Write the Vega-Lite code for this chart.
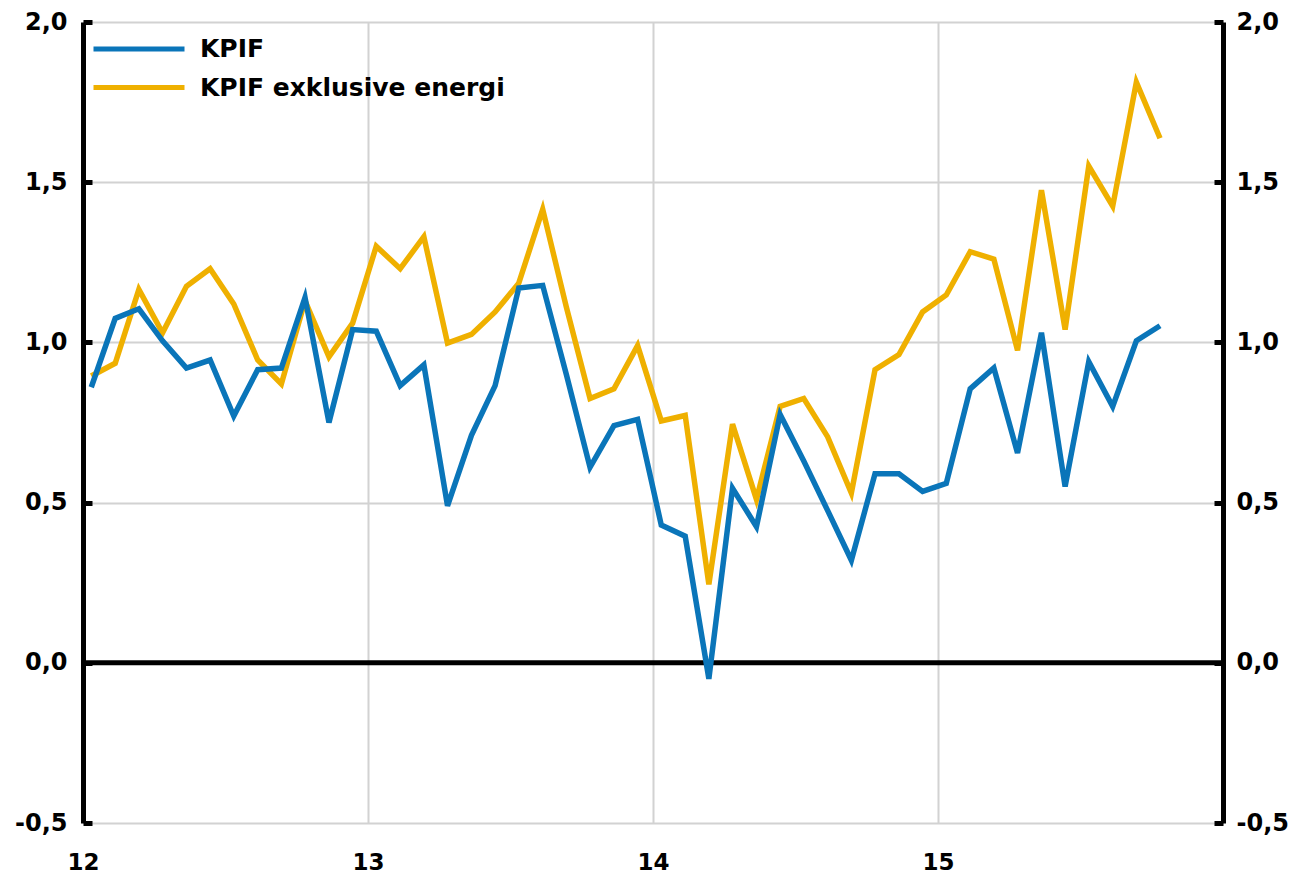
{
  "$schema": "https://vega.github.io/schema/vega-lite/v6.json",
  "width": 1140,
  "height": 801,
  "autosize": {"type": "none"},
  "padding": {"left": 83, "top": 22, "right": 72, "bottom": 53},
  "background": "white",
  "config": {
    "view": {"stroke": null},
    "axis": {
      "labelFont": "DejaVu Sans",
      "labelFontWeight": "bold",
      "labelFontSize": 24,
      "labelColor": "black",
      "labelFlush": false,
      "gridColor": "#d2d2d2",
      "gridWidth": 2,
      "title": null
    },
    "legend": {
      "labelFont": "DejaVu Sans",
      "labelFontWeight": "bold",
      "labelFontSize": 25,
      "labelColor": "black",
      "labelLimit": 0,
      "padding": 0
    }
  },
  "datasets": {
    "series": [
      {"t": 12.029, "serie": "KPIF", "value": 0.86},
      {"t": 12.113, "serie": "KPIF", "value": 1.075},
      {"t": 12.196, "serie": "KPIF", "value": 1.105},
      {"t": 12.279, "serie": "KPIF", "value": 1.005},
      {"t": 12.363, "serie": "KPIF", "value": 0.92},
      {"t": 12.446, "serie": "KPIF", "value": 0.945},
      {"t": 12.529, "serie": "KPIF", "value": 0.77},
      {"t": 12.613, "serie": "KPIF", "value": 0.915},
      {"t": 12.696, "serie": "KPIF", "value": 0.92},
      {"t": 12.779, "serie": "KPIF", "value": 1.14},
      {"t": 12.863, "serie": "KPIF", "value": 0.75},
      {"t": 12.946, "serie": "KPIF", "value": 1.04},
      {"t": 13.029, "serie": "KPIF", "value": 1.035},
      {"t": 13.113, "serie": "KPIF", "value": 0.865},
      {"t": 13.196, "serie": "KPIF", "value": 0.93},
      {"t": 13.279, "serie": "KPIF", "value": 0.49},
      {"t": 13.363, "serie": "KPIF", "value": 0.71},
      {"t": 13.446, "serie": "KPIF", "value": 0.865},
      {"t": 13.529, "serie": "KPIF", "value": 1.17},
      {"t": 13.613, "serie": "KPIF", "value": 1.178},
      {"t": 13.696, "serie": "KPIF", "value": 0.9},
      {"t": 13.779, "serie": "KPIF", "value": 0.61},
      {"t": 13.863, "serie": "KPIF", "value": 0.74},
      {"t": 13.946, "serie": "KPIF", "value": 0.76},
      {"t": 14.029, "serie": "KPIF", "value": 0.43},
      {"t": 14.113, "serie": "KPIF", "value": 0.395},
      {"t": 14.196, "serie": "KPIF", "value": -0.05},
      {"t": 14.279, "serie": "KPIF", "value": 0.545},
      {"t": 14.363, "serie": "KPIF", "value": 0.425},
      {"t": 14.446, "serie": "KPIF", "value": 0.775},
      {"t": 14.529, "serie": "KPIF", "value": 0.63},
      {"t": 14.613, "serie": "KPIF", "value": 0.475},
      {"t": 14.696, "serie": "KPIF", "value": 0.32},
      {"t": 14.779, "serie": "KPIF", "value": 0.59},
      {"t": 14.863, "serie": "KPIF", "value": 0.59},
      {"t": 14.946, "serie": "KPIF", "value": 0.535},
      {"t": 15.029, "serie": "KPIF", "value": 0.56},
      {"t": 15.113, "serie": "KPIF", "value": 0.855},
      {"t": 15.196, "serie": "KPIF", "value": 0.92},
      {"t": 15.279, "serie": "KPIF", "value": 0.655},
      {"t": 15.363, "serie": "KPIF", "value": 1.03},
      {"t": 15.446, "serie": "KPIF", "value": 0.55},
      {"t": 15.529, "serie": "KPIF", "value": 0.94},
      {"t": 15.613, "serie": "KPIF", "value": 0.8},
      {"t": 15.696, "serie": "KPIF", "value": 1.005},
      {"t": 15.779, "serie": "KPIF", "value": 1.052},
      {"t": 12.029, "serie": "KPIF exklusive energi", "value": 0.895},
      {"t": 12.113, "serie": "KPIF exklusive energi", "value": 0.935},
      {"t": 12.196, "serie": "KPIF exklusive energi", "value": 1.165},
      {"t": 12.279, "serie": "KPIF exklusive energi", "value": 1.03},
      {"t": 12.363, "serie": "KPIF exklusive energi", "value": 1.175},
      {"t": 12.446, "serie": "KPIF exklusive energi", "value": 1.23},
      {"t": 12.529, "serie": "KPIF exklusive energi", "value": 1.12},
      {"t": 12.613, "serie": "KPIF exklusive energi", "value": 0.945},
      {"t": 12.696, "serie": "KPIF exklusive energi", "value": 0.87},
      {"t": 12.779, "serie": "KPIF exklusive energi", "value": 1.13},
      {"t": 12.863, "serie": "KPIF exklusive energi", "value": 0.955},
      {"t": 12.946, "serie": "KPIF exklusive energi", "value": 1.06},
      {"t": 13.029, "serie": "KPIF exklusive energi", "value": 1.3},
      {"t": 13.113, "serie": "KPIF exklusive energi", "value": 1.23},
      {"t": 13.196, "serie": "KPIF exklusive energi", "value": 1.33},
      {"t": 13.279, "serie": "KPIF exklusive energi", "value": 0.998},
      {"t": 13.363, "serie": "KPIF exklusive energi", "value": 1.025},
      {"t": 13.446, "serie": "KPIF exklusive energi", "value": 1.095},
      {"t": 13.529, "serie": "KPIF exklusive energi", "value": 1.185},
      {"t": 13.613, "serie": "KPIF exklusive energi", "value": 1.415},
      {"t": 13.696, "serie": "KPIF exklusive energi", "value": 1.11},
      {"t": 13.779, "serie": "KPIF exklusive energi", "value": 0.825},
      {"t": 13.863, "serie": "KPIF exklusive energi", "value": 0.855},
      {"t": 13.946, "serie": "KPIF exklusive energi", "value": 0.99},
      {"t": 14.029, "serie": "KPIF exklusive energi", "value": 0.755},
      {"t": 14.113, "serie": "KPIF exklusive energi", "value": 0.772},
      {"t": 14.196, "serie": "KPIF exklusive energi", "value": 0.245},
      {"t": 14.279, "serie": "KPIF exklusive energi", "value": 0.745},
      {"t": 14.363, "serie": "KPIF exklusive energi", "value": 0.51},
      {"t": 14.446, "serie": "KPIF exklusive energi", "value": 0.8},
      {"t": 14.529, "serie": "KPIF exklusive energi", "value": 0.825},
      {"t": 14.613, "serie": "KPIF exklusive energi", "value": 0.705},
      {"t": 14.696, "serie": "KPIF exklusive energi", "value": 0.53},
      {"t": 14.779, "serie": "KPIF exklusive energi", "value": 0.915},
      {"t": 14.863, "serie": "KPIF exklusive energi", "value": 0.962},
      {"t": 14.946, "serie": "KPIF exklusive energi", "value": 1.095},
      {"t": 15.029, "serie": "KPIF exklusive energi", "value": 1.148},
      {"t": 15.113, "serie": "KPIF exklusive energi", "value": 1.283},
      {"t": 15.196, "serie": "KPIF exklusive energi", "value": 1.26},
      {"t": 15.279, "serie": "KPIF exklusive energi", "value": 0.975},
      {"t": 15.363, "serie": "KPIF exklusive energi", "value": 1.475},
      {"t": 15.446, "serie": "KPIF exklusive energi", "value": 1.04},
      {"t": 15.529, "serie": "KPIF exklusive energi", "value": 1.55},
      {"t": 15.613, "serie": "KPIF exklusive energi", "value": 1.425},
      {"t": 15.696, "serie": "KPIF exklusive energi", "value": 1.812},
      {"t": 15.779, "serie": "KPIF exklusive energi", "value": 1.637}
    ]
  },
  "layer": [
    {
      "data": {"values": [{"v": 0}]},
      "mark": {"type": "rule", "color": "black", "strokeWidth": 5},
      "encoding": {
        "y": {
          "field": "v",
          "type": "quantitative",
          "scale": {"domain": [-0.5, 2], "nice": false, "zero": false},
          "axis": {
            "orient": "left",
            "values": [-0.5, 0, 0.5, 1, 1.5, 2],
            "labelExpr": "(datum.value < 0 ? '-' : '') + replace(format(abs(datum.value), '.1f'), '.', ',')",
            "grid": true,
            "domainColor": "black",
            "domainWidth": 5,
            "tickColor": "black",
            "tickWidth": 5,
            "tickSize": -9,
            "labelPadding": 25
          }
        }
      }
    },
    {
      "data": {"name": "series"},
      "transform": [{"filter": "datum.serie == 'KPIF exklusive energi'"}],
      "mark": {"type": "line", "strokeWidth": 5.5, "strokeJoin": "miter"},
      "encoding": {
        "x": {
          "field": "t",
          "type": "quantitative",
          "scale": {"domain": [12, 16], "nice": false, "zero": false},
          "axis": {
            "orient": "bottom",
            "values": [12, 13, 14, 15],
            "format": "d",
            "grid": true,
            "domain": false,
            "ticks": false,
            "labelFontSize": 23,
            "labelPadding": 28
          }
        },
        "y": {
          "field": "value",
          "type": "quantitative",
          "axis": {
            "orient": "right",
            "values": [-0.5, 0, 0.5, 1, 1.5, 2],
            "labelExpr": "(datum.value < 0 ? '-' : '') + replace(format(abs(datum.value), '.1f'), '.', ',')",
            "grid": false,
            "domainColor": "black",
            "domainWidth": 5,
            "tickColor": "black",
            "tickWidth": 5,
            "tickSize": -9,
            "labelPadding": 22
          }
        },
        "color": {
          "field": "serie",
          "type": "nominal",
          "scale": {"domain": ["KPIF", "KPIF exklusive energi"], "range": ["#0a75b9", "#efb000"]},
          "legend": {
            "title": null,
            "orient": "none",
            "legendX": 8,
            "legendY": 14,
            "symbolType": "stroke",
            "symbolSize": 8281,
            "symbolStrokeWidth": 5,
            "clipHeight": 26,
            "rowPadding": 12.5,
            "labelOffset": 13
          }
        }
      }
    },
    {
      "data": {"name": "series"},
      "transform": [{"filter": "datum.serie == 'KPIF'"}],
      "mark": {"type": "line", "strokeWidth": 5.5, "strokeJoin": "miter"},
      "encoding": {
        "x": {"field": "t", "type": "quantitative"},
        "y": {"field": "value", "type": "quantitative", "axis": null},
        "color": {
          "field": "serie",
          "type": "nominal",
          "legend": {
            "title": null,
            "orient": "none",
            "legendX": 8,
            "legendY": 14,
            "symbolType": "stroke",
            "symbolSize": 8281,
            "symbolStrokeWidth": 5,
            "clipHeight": 26,
            "rowPadding": 12.5,
            "labelOffset": 13
          }
        }
      }
    }
  ],
  "resolve": {"axis": {"y": "independent"}}
}
